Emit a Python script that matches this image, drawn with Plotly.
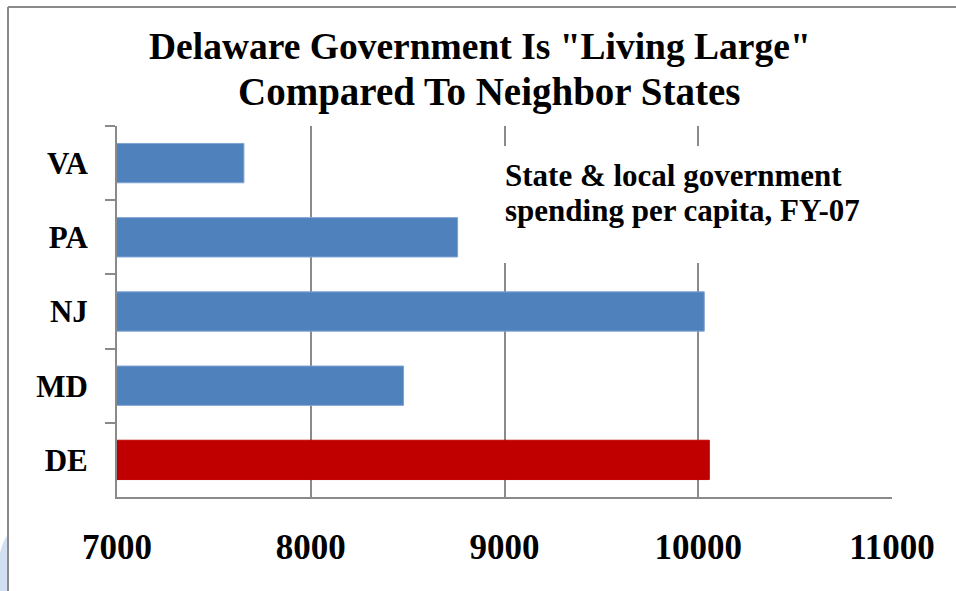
import plotly.graph_objects as go

states = ["VA", "PA", "NJ", "MD", "DE"]
spending = [7655, 8758, 10031, 8479, 10057]
bar_colors = ["#4F81BD", "#4F81BD", "#4F81BD", "#4F81BD", "#C00000"]
edge_colors = ["#7DA3D3", "#7DA3D3", "#7DA3D3", "#7DA3D3", "#C00000"]
x_ticks = [7000, 8000, 9000, 10000, 11000]
title_lines = ['Delaware Government Is "Living Large"', "Compared To Neighbor States"]
note_lines = ["State & local government", "spending per capita, FY-07"]

W, H = 956, 591
L, R, T, B = 117, 892, 126, 497


def px(x):
    return (x - L) / (R - L)


def py(y):
    return (B - y) / (B - T)


SERIF = "Liberation Serif, Times New Roman, serif"

fig = go.Figure(
    go.Bar(
        x=spending,
        y=states,
        orientation="h",
        width=0.53,
        marker=dict(color=bar_colors, line=dict(color=edge_colors, width=1)),
        hoverinfo="x+y",
    )
)

shapes = [
    dict(type="rect", xref="paper", yref="paper",
         x0=px(492), x1=px(905), y0=py(263), y1=py(146),
         fillcolor="white", line=dict(width=0), layer="above"),
    dict(type="line", xref="paper", yref="paper",
         x0=px(8), x1=px(960), y0=py(7), y1=py(7),
         line=dict(color="#8a8a8a", width=2)),
    dict(type="line", xref="paper", yref="paper",
         x0=px(8), x1=px(8), y0=py(7), y1=py(600),
         line=dict(color="#8a8a8a", width=2)),
    dict(type="path", xref="paper", yref="paper",
         path=(f"M {px(-2)} {py(560)} Q {px(3)} {py(540)} {px(7)} {py(536)} "
               f"L {px(7)} {py(595)} L {px(-2)} {py(595)} Z"),
         fillcolor="#D3E0F4", line=dict(width=0), layer="below"),
]

annotations = []
for text, xc, yc, fs in zip(title_lines, [480, 489], [47, 92], [37.5, 39]):
    annotations.append(dict(
        text=text, xref="paper", yref="paper",
        x=px(xc), y=py(yc), xanchor="center", yanchor="middle",
        showarrow=False,
        font=dict(family=SERIF, size=fs, color="black", weight="bold"),
    ))
for text, yc in zip(note_lines, [175, 210]):
    annotations.append(dict(
        text=text, xref="paper", yref="paper",
        x=px(503), y=py(yc), xanchor="left", yanchor="middle",
        align="left", showarrow=False,
        font=dict(family=SERIF, size=31, color="black", weight="bold"),
    ))

fig.update_layout(
    width=W, height=H,
    margin=dict(l=L, r=W - R, t=T, b=H - B),
    paper_bgcolor="white", plot_bgcolor="white",
    showlegend=False,
    bargap=0.47,
    xaxis=dict(
        range=[7000, 11000],
        tickvals=x_ticks,
        ticktext=[str(v) for v in x_ticks],
        showgrid=True, gridcolor="#8a8a8a", gridwidth=1.5,
        showline=True, linecolor="#8a8a8a", linewidth=2,
        zeroline=False, ticks="",
        ticklabelstandoff=18,
        tickfont=dict(family=SERIF, size=35, color="black", weight="bold"),
        fixedrange=True,
    ),
    yaxis=dict(
        autorange="reversed",
        showline=True, linecolor="#8a8a8a", linewidth=2,
        showgrid=False, zeroline=False,
        ticks="outside", ticklen=10, tickwidth=2, tickcolor="#8a8a8a",
        tickson="boundaries",
        ticklabelstandoff=21,
        tickfont=dict(family=SERIF, size=31, color="black", weight="bold"),
        fixedrange=True,
    ),
    shapes=shapes,
    annotations=annotations,
)

fig.write_html("out.html")
